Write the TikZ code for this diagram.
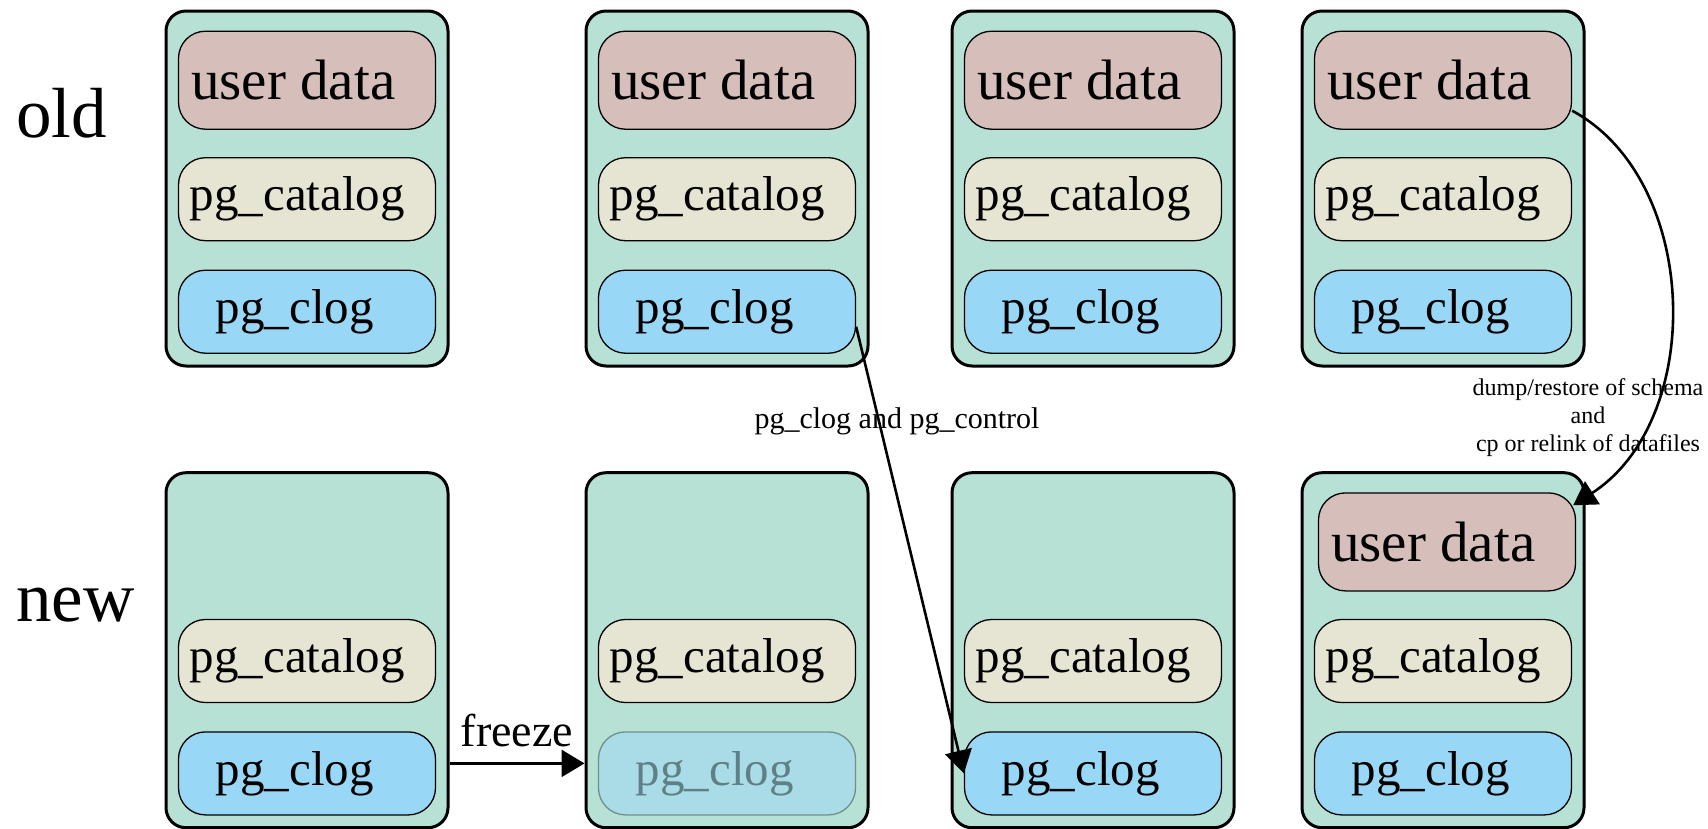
\documentclass[tikz,border=0pt]{standalone}
\usepackage{fontspec}
\setmainfont{Liberation Serif}
\usepackage{tikz}
\usetikzlibrary{arrows.meta}
\definecolor{PGMint}{RGB}{183,225,212}
\definecolor{PGRose}{RGB}{214,191,186}
\definecolor{PGSand}{RGB}{230,228,211}
\definecolor{PGSky}{RGB}{152,215,245}
\definecolor{PGFadeSky}{RGB}{169,220,230}
\definecolor{PGFadeLine}{RGB}{111,143,140}
\definecolor{PGFadeText}{RGB}{94,128,134}

\begin{document}
\begin{tikzpicture}[x=1pt,y=-1pt,
    cluster/.style={draw, line width=3pt, fill=PGMint, rounded corners=20pt, minimum width=282pt, minimum height=355pt},
    part/.style={draw, line width=1.3pt, rounded corners=27pt, minimum width=257pt, inner sep=0pt},
    txt/.style={inner sep=0pt},
    udata/.style={part, fill=PGRose, minimum height=98pt, label={[txt, font=\fontsize{57}{60}\selectfont, xshift=-13.7pt]center:user data}},
    catalog/.style={part, fill=PGSand, minimum height=83pt, label={[txt, font=\fontsize{49}{52}\selectfont, xshift=-9.6pt]center:pg\_catalog}},
    clog/.style={part, fill=PGSky, minimum height=83pt, label={[txt, font=\fontsize{49}{52}\selectfont, xshift=-12.2pt]center:pg\_clog}},
    clogfaded/.style={part, draw=PGFadeLine, fill=PGFadeSky, minimum height=83pt, label={[txt, text=PGFadeText, font=\fontsize{49}{52}\selectfont, xshift=-12.2pt]center:pg\_clog}},
    rowlbl/.style={inner sep=0pt, font=\fontsize{71}{75}\selectfont},
    edgelbl/.style={inner sep=0pt, font=\fontsize{30}{34}\selectfont},
    arr/.style={line width=2.6pt, -{Triangle[length=23pt,width=27pt]}}
  ]
    \useasboundingbox (0,0) rectangle (1708,828);
    % clusters, old on top and new below
    \foreach \i/\x in {1/307,2/727,3/1093,4/1443} {
      \node[cluster] (old\i) at (\x,188.5) {};
      \node[cluster] (new\i) at (\x,650.2) {};
      \node[udata] (oud\i) at (\x,80.2) {};
      \node[catalog] (ocat\i) at (\x,199.2) {};
      \node[clog] (oclog\i) at (\x,311.7) {};
      \node[catalog] (ncat\i) at (\x,661) {};
    }
    \foreach \i/\x in {1/307,3/1093,4/1443} {\node[clog] (nclog\i) at (\x,773.4) {};}
    \node[clogfaded] (nclog2) at (727,773.4) {};
    \node[udata] (nud4) at (1447,541.9) {};
    \node[rowlbl, anchor=base west] (lblold) at (16,137) {old};
    \node[rowlbl, anchor=base west] (lblnew) at (16,621) {new};
    % transfers
    \draw[arr] ([yshift=10pt]new1.east |- nclog1.east) -- ([yshift=10pt]new2.west |- nclog1.east)
      node[midway, above, inner sep=0pt, yshift=15pt, font=\fontsize{46}{50}\selectfont] (lblfreeze) {freeze};
    \draw[arr] ([yshift=-15pt]oclog2.east) -- (nclog3.west);
    \node[edgelbl] (lblcopy) at (897,421) {pg\_clog and pg\_control};
    \draw[arr] ([yshift=-30.5pt]oud4.east) .. controls +(128,69) and +(133,-86) .. ([xshift=-3pt,yshift=-13pt]nud4.north east);
    \node[edgelbl, align=center, font=\fontsize{24}{28.3}\selectfont] (lbldump) at (1588,417.6) {dump/restore of schema\\and\\cp or relink of datafiles};
  \end{tikzpicture}
\end{document}
